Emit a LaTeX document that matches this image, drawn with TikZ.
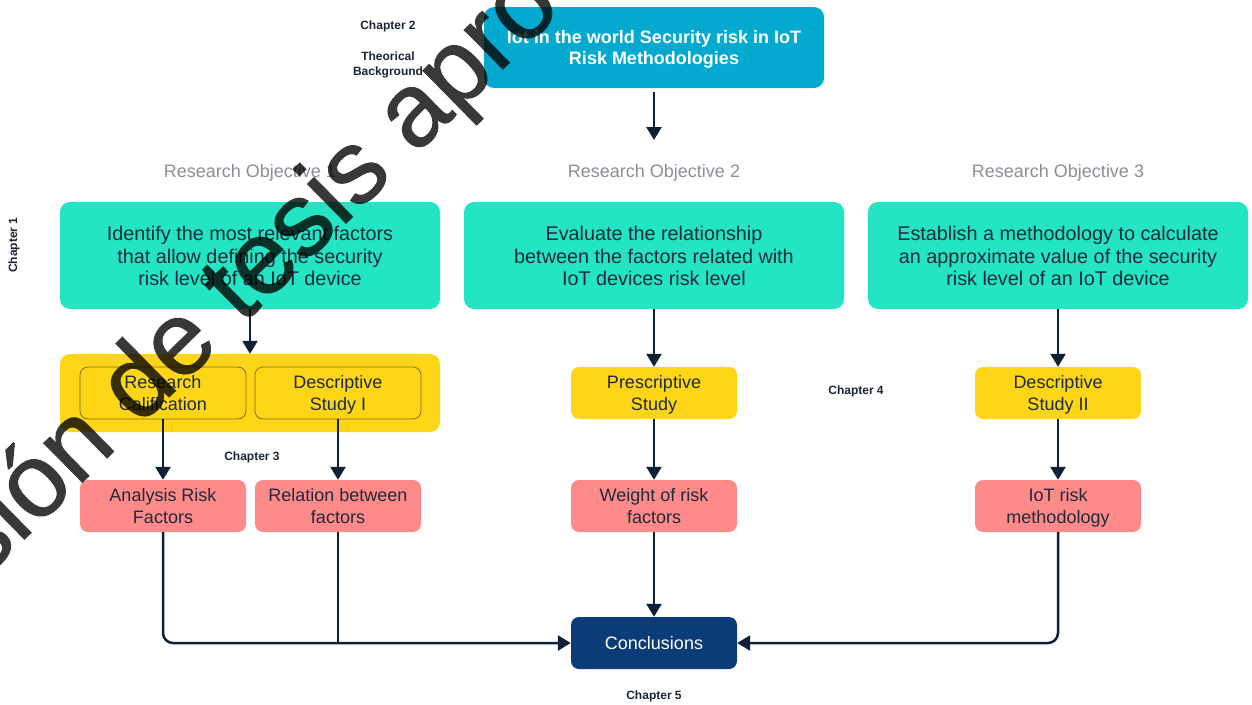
\documentclass[tikz,border=0pt]{standalone}
\usepackage{fontspec}
\setmainfont{Liberation Sans}
\newfontfamily\markfont[FakeBold=1.0]{Liberation Sans}
\usetikzlibrary{arrows.meta}

\definecolor{topblue}{HTML}{03A9CE}
\definecolor{objgreen}{HTML}{23E5C3}
\definecolor{studyyellow}{HTML}{FFD617}
\definecolor{resultpink}{HTML}{FF8A8A}
\definecolor{conclnavy}{HTML}{0C3C78}
\definecolor{linenavy}{HTML}{0D2136}
\definecolor{textdark}{HTML}{1E2B38}
\definecolor{labelgray}{HTML}{8A8F94}
\definecolor{chapdark}{HTML}{1B2633}
\definecolor{innerline}{HTML}{7F6F28}

% line struts that fix the vertical placement of multi-line box texts
\newcommand\objtop{\rule{0pt}{21.75pt}}
\newcommand\boxtop{\rule{0pt}{19.4pt}}
\newcommand\headtop{\rule{0pt}{19.7pt}}

\begin{document}
\begin{tikzpicture}[x=1pt,y=-1pt,
  base/.style={rounded corners=10pt, align=center, inner sep=0pt, anchor=center},
  objbox/.style={base, fill=objgreen, minimum width=380pt, minimum height=107pt,
    text=textdark, font=\fontsize{19.8}{22.5}\selectfont},
  smallbox/.style={base, minimum width=166pt, minimum height=52pt,
    rounded corners=8pt, font=\fontsize{18}{22}\selectfont},
  studybox/.style={smallbox, fill=studyyellow, text=textdark},
  innerbox/.style={smallbox, draw=innerline, line width=0.8pt, text=textdark},
  resultbox/.style={smallbox, fill=resultpink, text=textdark},
  chap/.style={font=\fontsize{12}{15}\selectfont\bfseries, text=chapdark,
    align=center, inner sep=0pt},
  objlabel/.style={font=\fontsize{18}{22}\selectfont, text=labelgray, inner sep=0pt},
  wire/.style={draw=linenavy, line width=2.5pt},
  link/.style={wire, -{Triangle[length=13pt,width=15pt]}}
]
\useasboundingbox (0,0) rectangle (1252,704);

% theoretical background
\node[base, fill=topblue, minimum width=340pt, minimum height=81pt, text=white,
  font=\fontsize{18}{21}\selectfont\bfseries] (top) at (654,47.5)
  {\headtop Iot in the world Security risk in IoT\\Risk Methodologies\strut};
\node[chap] (ch2) at (388,26) {Chapter 2};
\node[chap] (theo) at (388,65) {Theorical\\Background};
\coordinate (topend) at (654,140);
\draw[link, shorten <=4pt] (top) -- (topend);

% objective headings
\node[objlabel] (ro1) at (250,172.5) {Research Objective 1};
\node[objlabel] (ro2) at (654,172.5) {Research Objective 2};
\node[objlabel] (ro3) at (1058,172.5) {Research Objective 3};

% objectives
\node[objbox] (obj1) at (250,255.5)
  {\objtop Identify the most relevant factors\\that allow defining the security\\risk level of an IoT device\strut};
\node[objbox] (obj2) at (654,255.5)
  {\objtop Evaluate the relationship\\between the factors related with\\IoT devices risk level\strut};
\node[objbox] (obj3) at (1058,255.5)
  {\objtop Establish a methodology to calculate\\an approximate value of the security\\risk level of an IoT device\strut};
\node[chap, rotate=90] (ch1) at (14,245) {Chapter 1};

% studies
\node[base, fill=studyyellow, minimum width=380pt, minimum height=78pt] (grp1) at (250,393) {};
\node[innerbox] (rescal) at (163,393) {\boxtop Research\\Calification\strut};
\node[innerbox] (desc1) at (338,393) {\boxtop Descriptive\\Study I\strut};
\node[studybox] (presc) at (654,393) {\boxtop Prescriptive\\Study\strut};
\node[studybox] (desc2) at (1058,393) {\boxtop Descriptive\\Study II\strut};
\node[chap] (ch3) at (252,457) {Chapter 3};
\node[chap] (ch4) at (856,391) {Chapter 4};

% results
\node[resultbox] (analysis) at (163,506) {\boxtop Analysis Risk\\Factors\strut};
\node[resultbox] (relation) at (338,506) {\boxtop Relation between\\factors\strut};
\node[resultbox] (weight) at (654,506) {\boxtop Weight of risk\\factors\strut};
\node[resultbox] (iotrisk) at (1058,506) {\boxtop IoT risk\\methodology\strut};

% conclusions
\node[smallbox, fill=conclnavy, text=white] (concl) at (654,643) {Conclusions};
\node[chap] (ch5) at (654,696) {Chapter 5};

% connectors
\draw[link] (obj1) -- (grp1);
\draw[link] (rescal) -- (analysis);
\draw[link] (desc1) -- (relation);
\draw[link] (obj2) -- (presc);
\draw[link] (presc) -- (weight);
\draw[link] (weight) -- (concl);
\draw[link] (obj3) -- (desc2);
\draw[link] (desc2) -- (iotrisk);
\draw[link, rounded corners=10pt] (analysis.south) |- (concl.west);
\draw[wire] (relation.south) -- (relation.south |- concl.west);
\draw[link, rounded corners=10pt] (iotrisk.south) |- (concl.east);

% watermark
\begin{scope}[transparency group, opacity=0.78]
\clip (0,0) rectangle (1252,704);
\node[rotate=44.5, anchor=base west, inner sep=0pt, text=black,
  font=\markfont\fontsize{104}{104}\selectfont] (wm) at (-129,690) {Versión de tesis apro};
\end{scope}
\end{tikzpicture}
\end{document}
